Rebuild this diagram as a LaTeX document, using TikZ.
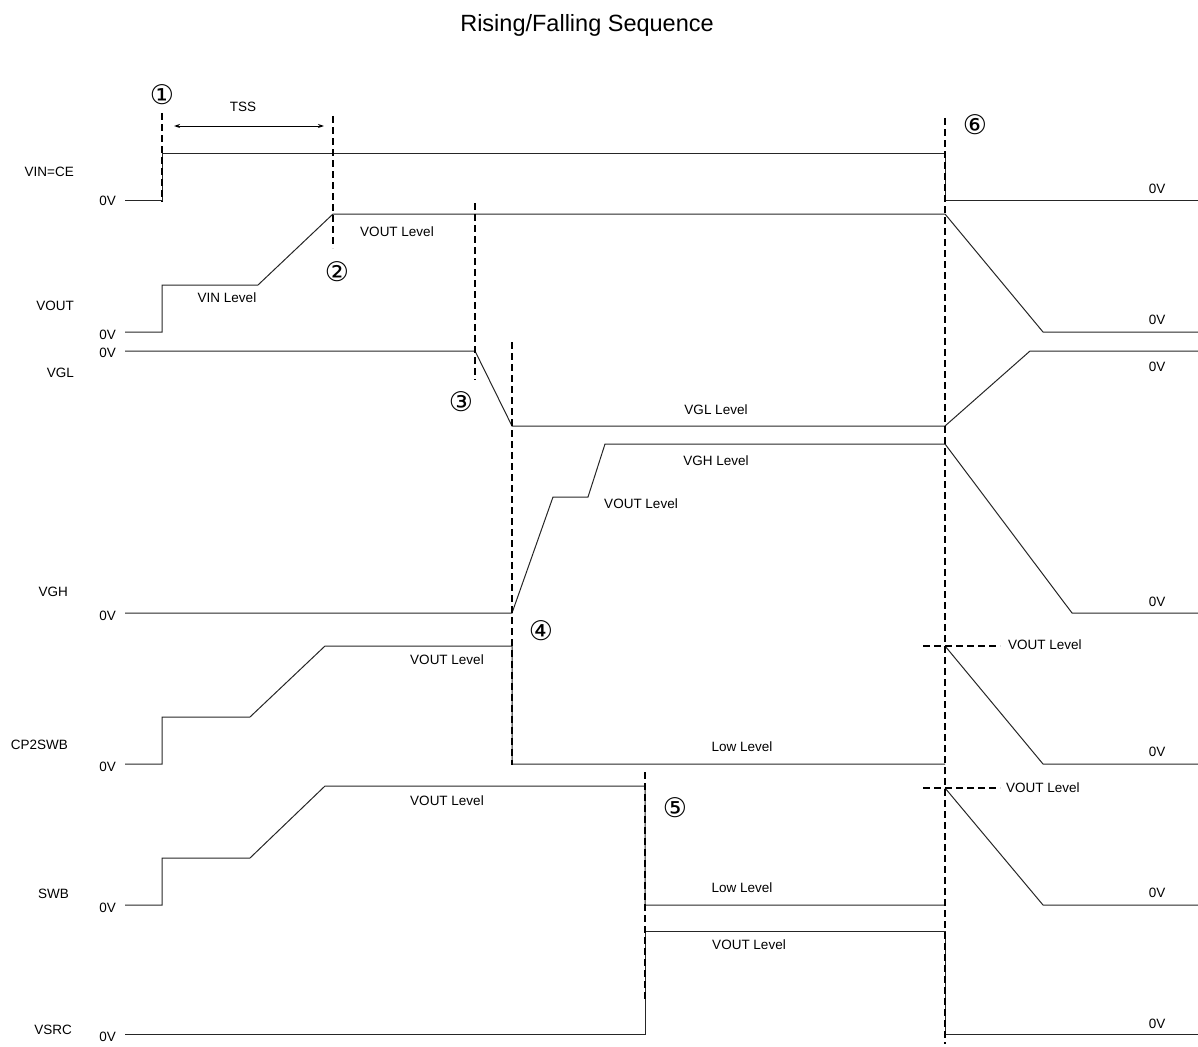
\documentclass[tikz,border=0pt]{standalone}
\usepackage{fontspec}
\setmainfont{Liberation Sans}
\newfontfamily\circfont{DejaVu Sans}
\usetikzlibrary{arrows.meta}
\begin{document}
\begin{tikzpicture}[x=1pt,y=-1pt,
    sig/.style={line width=1pt,draw=black!85},
    cutline/.style={line width=2pt,dash pattern=on 7pt off 4pt},
    lbl/.style={font=\fontsize{13.5}{16}\selectfont,inner sep=0pt},
    num/.style={font=\circfont\fontsize{27}{30}\selectfont,inner sep=0pt}]
  \useasboundingbox (0,0) rectangle (1198,1046);
  \node[inner sep=0pt,font=\fontsize{23.5}{28}\selectfont] (title) at (587,25) {Rising/Falling Sequence};

  % signal names
  \node[lbl,anchor=east] (vin)  at (74,172)  {VIN=CE};
  \node[lbl,anchor=east] (vout) at (74,306)  {VOUT};
  \node[lbl,anchor=east] (vgl)  at (74,373)  {VGL};
  \node[lbl,anchor=east] (vgh)  at (68,592)  {VGH};
  \node[lbl,anchor=east] (cp2)  at (68,745)  {CP2SWB};
  \node[lbl,anchor=east] (swb)  at (69,894)  {SWB};
  \node[lbl,anchor=east] (vsrc) at (72,1030) {VSRC};
  \foreach \y [count=\i] in {201,335,353,616,767,908,1037}
    \node[lbl,anchor=east] (lz\i) at (116,\y) {0V};
  \foreach \y [count=\i] in {189,320,367,602,752,893,1024}
    \node[lbl] (rz\i) at (1157,\y) {0V};

  % waveforms
  \draw[sig] (125,200) -- (162,200) -- (162,153) -- (945,153) -- (945,200) -- (1198,200);
  \draw[sig] (125,332) -- (162,332) -- (162,285) -- (258,285) -- (333,214) -- (945,214) -- (1043,332) -- (1198,332);
  \draw[sig] (125,351) -- (475,351) -- (512,426) -- (945,426) -- (1030,351) -- (1198,351);
  \draw[sig] (125,613) -- (512,613) -- (553,497) -- (588,497) -- (605,444) -- (945,444) -- (1072,613) -- (1198,613);
  \draw[sig] (125,764) -- (162,764) -- (162,717) -- (250,717) -- (325,646) -- (512,646) -- (512,764) -- (945,764);
  \draw[sig] (945,646) -- (1043,764) -- (1198,764);
  \draw[sig] (125,905) -- (162,905) -- (162,858) -- (250,858) -- (325,786) -- (645,786) -- (645,905) -- (945,905);
  \draw[sig] (945,788) -- (1043,905) -- (1198,905);
  \draw[sig] (125,1034) -- (645,1034) -- (645,931) -- (945,931) -- (945,1034) -- (1198,1034);

  % levels
  \node[lbl] (vinlev)  at (227,298) {VIN Level};
  \node[lbl] (voutlev) at (397,232) {VOUT Level};
  \node[lbl] (vgllev)  at (716,410) {VGL Level};
  \node[lbl] (vghlev)  at (716,461) {VGH Level};
  \node[lbl] (vghmid)  at (641,504) {VOUT Level};
  \node[lbl] (cp2lev)  at (447,660) {VOUT Level};
  \node[lbl] (cp2low)  at (742,747) {Low Level};
  \node[lbl] (swblev)  at (447,801) {VOUT Level};
  \node[lbl] (swblow)  at (742,888) {Low Level};
  \node[lbl] (vsrclev) at (749,945) {VOUT Level};
  \node[lbl,anchor=west] (cp2off) at (1008,645) {VOUT Level};
  \node[lbl,anchor=west] (swboff) at (1006,788) {VOUT Level};

  % timing marks
  \draw[cutline] (162,113) -- (162,202);
  \draw[cutline] (333,116) -- (333,248);
  \draw[cutline] (475,203) -- (475,380);
  \draw[cutline] (512,342) -- (512,765);
  \draw[cutline] (645,772) -- (645,1000);
  \draw[cutline] (945,118) -- (945,1044);
  \draw[cutline] (923,646) -- (1000,646);
  \draw[cutline] (923,788) -- (1000,788);

  \coordinate (tssa) at (174,126);
  \coordinate (tssb) at (324,126);
  \draw[line width=1pt,{Stealth[length=6pt,width=4pt]}-{Stealth[length=6pt,width=4pt]}] (tssa) -- (tssb);
  \node[lbl] (tss) at (243,107) {TSS};

  \node[num] (n1) at (162,95)  {①};
  \node[num] (n2) at (337,272) {②};
  \node[num] (n3) at (461,402) {③};
  \node[num] (n4) at (541,631) {④};
  \node[num] (n5) at (675,808) {⑤};
  \node[num] (n6) at (975,125) {⑥};
\end{tikzpicture}
\end{document}
